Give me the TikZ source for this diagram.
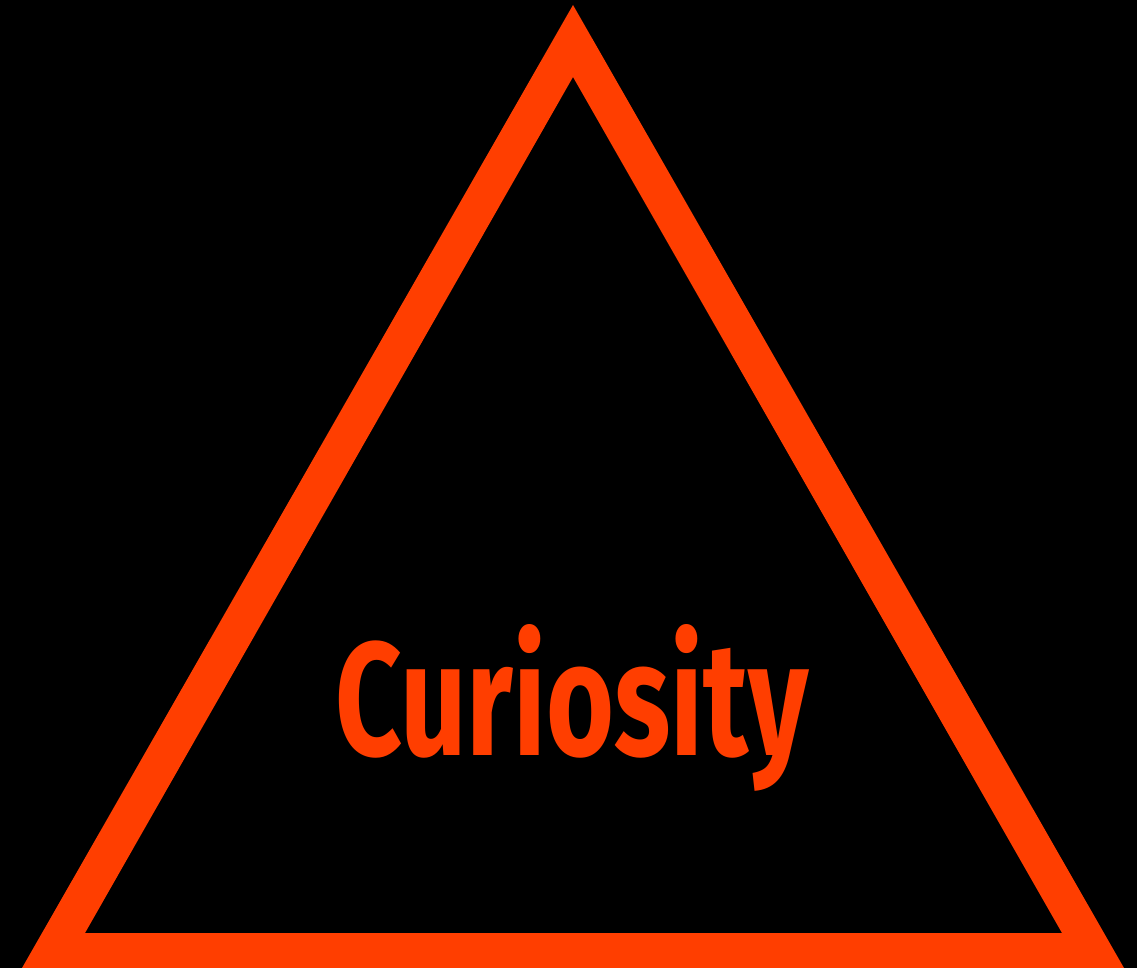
\documentclass[tikz,border=0pt]{standalone}
\usepackage{fontspec}
\setmainfont{Fira Sans}
\usepackage{graphicx}
\definecolor{curorange}{RGB}{255,62,0}
\tikzset{
  tri/.style={fill=curorange, even odd rule},
  label/.style={text=curorange, inner sep=0pt, outer sep=0pt, anchor=base west}
}
\begin{document}
\begin{tikzpicture}[x=1pt,y=-1pt]
\fill[black] (0,0) rectangle (1137,968);
\useasboundingbox (0,0) rectangle (1137,968);
\fill[tri] (573,5) -- (1124,968) -- (22,968) -- cycle
           (573,77) -- (1062,933) -- (85,933) -- cycle;
\node[label] (word) at (335,755) {\resizebox{473pt}{131pt}{\bfseries Curiosity}};
\end{tikzpicture}
\end{document}
